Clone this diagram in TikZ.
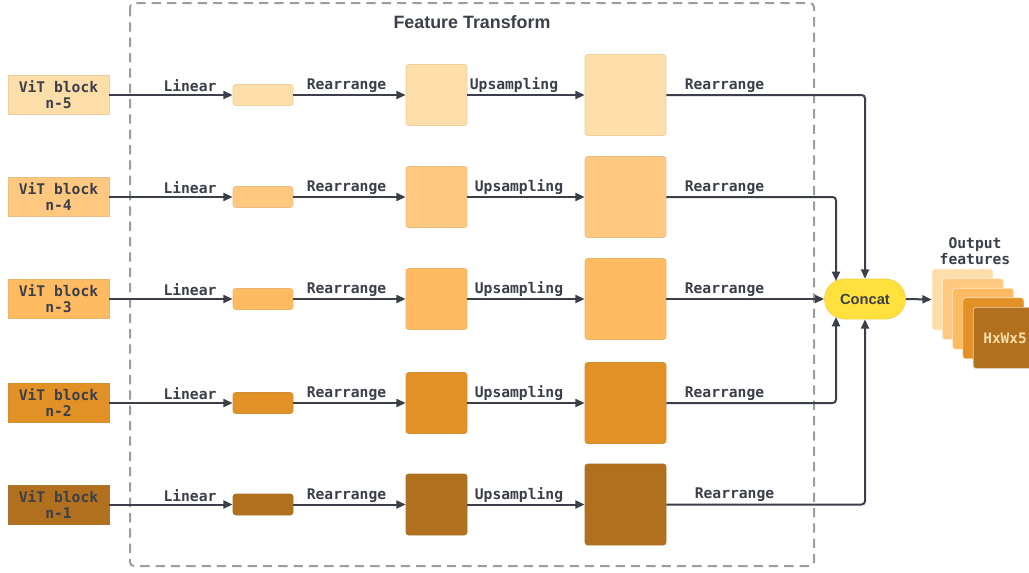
\documentclass[tikz,border=0pt]{standalone}
\usepackage{fontspec}
\setmainfont{Liberation Sans}
\setmonofont{DejaVu Sans Mono}
\usetikzlibrary{arrows.meta,shapes.misc,calc}

\definecolor{cA}{HTML}{FDDEA8}
\definecolor{cB}{HTML}{FFC880}
\definecolor{cC}{HTML}{FFBB62}
\definecolor{cD}{HTML}{E29127}
\definecolor{cE}{HTML}{B0701E}
\definecolor{ink}{HTML}{3B3F4A}
\definecolor{framegray}{HTML}{9A9DA3}
\definecolor{concatc}{HTML}{FFE03D}

\tikzset{
  mono/.style={font=\ttfamily\bfseries\fontsize{11}{12}\selectfont, text=ink},
  vit/.style={mono, align=center, minimum width=75.75pt, minimum height=29.25pt, inner sep=0pt, draw=#1!85!gray, fill=#1, line width=0.5pt},
  box/.style={draw=#1!85!gray, fill=#1, line width=0.5pt, rounded corners=2pt, inner sep=0pt},
  linbox/.style={box=#1, minimum width=45pt, minimum height=15.75pt},
  reabox/.style={box=#1, minimum width=45.75pt, minimum height=45.75pt},
  upbox/.style={box=#1, minimum width=60.75pt, minimum height=60.75pt},
  outbox/.style={box=#1, draw=white!70!#1, minimum width=45.75pt, minimum height=45.75pt},
  lbl/.style={mono},
  arr/.style={draw=ink, line width=1.5pt, rounded corners=2.5pt, -{Triangle[length=7pt,width=6pt]}},
}

\begin{document}
\begin{tikzpicture}[x=0.75pt,y=-0.75pt]
\useasboundingbox (0,0) rectangle (1029,572);

% feature transform frame
\draw[framegray, line width=1.5pt, dash pattern=on 7pt off 4.5pt, rounded corners=3pt]
  (130,3) rectangle (814,566);
\node[font=\bfseries\fontsize{13.4}{15}\selectfont, text=ink] (title) at (472,22) {Feature Transform};

% concat node
\node[rounded rectangle, fill=concatc, draw=concatc!85!gray, line width=0.5pt,
      minimum width=60.75pt, minimum height=30pt, inner sep=0pt,
      font=\bfseries\fontsize{11}{12}\selectfont, text=ink] (cc) at (865,299) {Concat};

% five branches
\foreach \i/\y/\c/\n/\ux/\rx in {1/95/cA/5/514/724.5, 2/197/cB/4/519/724.5, 3/299/cC/3/519/724.5, 4/403/cD/2/519/724.5, 5/504.5/cE/1/519/734.5}{
  \node[vit=\c] (v\i) at (58.5,\y) {ViT block\\n-\n};
  \node[linbox=\c] (l\i) at (263,\y) {};
  \node[reabox=\c] (r\i) at (436.5,\y) {};
  \node[upbox=\c] (u\i) at (625.5,\y) {};
  \draw[arr] (v\i) -- (l\i);
  \draw[arr] (l\i) -- (r\i);
  \draw[arr] (r\i) -- (u\i);
  \node[lbl] (tl\i) at (190,{\y-9}) {Linear};
  \node[lbl] (tr\i) at (346.5,{\y-9}) {Rearrange};
  \node[lbl] (tu\i) at (\ux,{\y-9.5}) {Upsampling};
  \node[lbl] (tc\i) at (\rx,{\y-9.5}) {Rearrange};
}

% merging into concat
\draw[arr] (u1.east) -| (cc.north);
\draw[arr] (u2.east) -| ($(cc.center)+(-29,-18)$);
\draw[arr] (u3.east) -- (cc.west);
\draw[arr] (u4.east) -| ($(cc.center)+(-29,18)$);
\draw[arr] (u5.east) -| (cc.south);

% output feature stack
\foreach \k/\c in {0/cA,1/cB,2/cC,3/cD,4/cE}{
  \node[outbox=\c] (o\k) at ({962.5+10.3*\k},{299.5+9.6*\k}) {};
}
\node[font=\ttfamily\bfseries\fontsize{10.8}{12}\selectfont, text=cA] (hw) at (1005,338) {HxWx5};
\node[mono, align=center, font=\ttfamily\bfseries\fontsize{11}{12}\selectfont] (of) at (975,251) {Output\\features};
\draw[arr] (cc.east) -- (o0.west);
\end{tikzpicture}
\end{document}
